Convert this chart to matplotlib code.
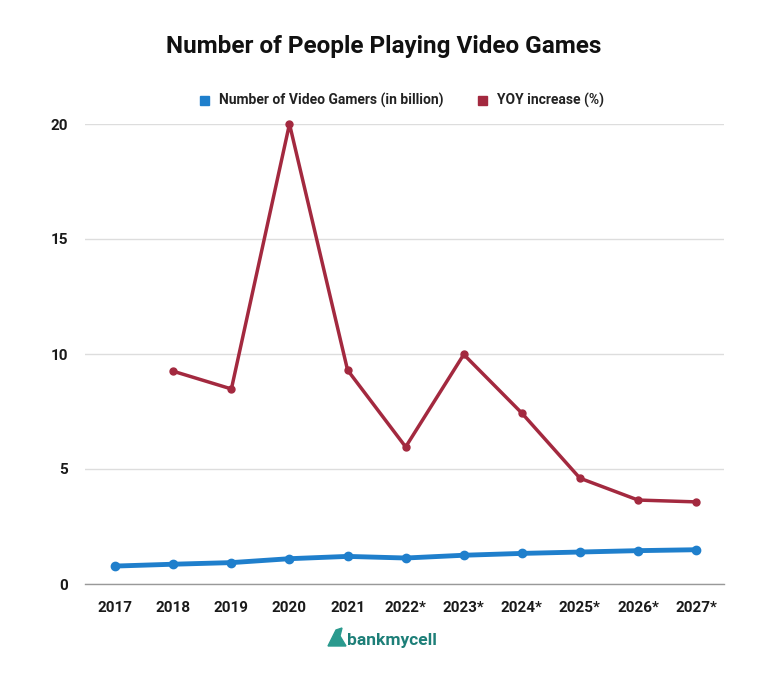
import matplotlib
matplotlib.use("Agg")
import matplotlib.pyplot as plt
from matplotlib.patches import Polygon

years = ["2017", "2018", "2019", "2020", "2021", "2022*", "2023*", "2024*", "2025*", "2026*", "2027*"]
gamers = [0.78, 0.86, 0.93, 1.10, 1.20, 1.13, 1.25, 1.33, 1.39, 1.45, 1.49]
yoy = [None, 9.25, 8.48, 20.0, 9.3, 5.96, 9.98, 7.43, 4.6, 3.65, 3.57]
yticks = [0, 5, 10, 15, 20]

plt.rcParams['font.family'] = ['Roboto', 'DejaVu Sans']

BLUE = "#1f7fcc"
RED = "#a3293f"
TEAL = "#1d7f78"

fig = plt.figure(figsize=(7.68, 6.75), dpi=100)
ax = fig.add_axes([85/768, 1-584/675, (724-85)/768, (584-124)/675])

x = list(range(len(years)))
ax.plot(x, gamers, color=BLUE, lw=3.5, marker='o', ms=6, clip_on=False, zorder=3,
        label="Number of Video Gamers (in billion)")
xr = [i for i, v in zip(x, yoy) if v is not None]
yr = [v for v in yoy if v is not None]
ax.plot(xr, yr, color=RED, lw=2.5, marker='o', ms=5, clip_on=False, zorder=3,
        label="YOY increase (%)")

ax.set_xlim(-0.52, 10.48)
ax.set_ylim(0, 20)
ax.set_yticks(yticks)
ax.set_yticklabels([str(t) for t in yticks])
ax.set_xticks(x)
ax.set_xticklabels(years)
for lab in ax.get_xticklabels() + ax.get_yticklabels():
    lab.set_fontweight('bold')
    lab.set_fontsize(11)
    lab.set_color('#1a1a1a')
ax.tick_params(axis='both', length=0)
ax.tick_params(axis='y', pad=12)
ax.tick_params(axis='x', pad=12)
ax.grid(axis='y', color='#dddddd', lw=1)
ax.set_axisbelow(True)
for s in ['top', 'right', 'left']:
    ax.spines[s].set_visible(False)
ax.spines['bottom'].set_color('#999999')
ax.spines['bottom'].set_linestyle((0, (1, 1)))
ax.spines['bottom'].set_linewidth(1)

fig.text(0.5, 1-47/675, "Number of People Playing Video Games", ha='center', va='center',
         fontsize=17.5, fontweight='bold', color='#111111')

# legend
fig.patches.append(plt.Rectangle((200/768, 1-105/675), 9/768, 9/675, transform=fig.transFigure,
                                 color=BLUE, figure=fig))
fig.text(219/768, 1-100/675, "Number of Video Gamers (in billion)", va='center', ha='left',
         fontsize=10, fontweight='bold', color='#222222')
fig.patches.append(plt.Rectangle((478/768, 1-105/675), 9/768, 9/675, transform=fig.transFigure,
                                 color=RED, figure=fig))
fig.text(497/768, 1-100/675, "YOY increase (%)", va='center', ha='left',
         fontsize=10, fontweight='bold', color='#222222')

# logo
icon = [(328, 646), (336, 630), (342, 628), (340, 636), (346, 646)]
fig.patches.append(Polygon([(px/768, 1-py/675) for px, py in icon], closed=True,
                           transform=fig.transFigure, color="#2a9a8e", figure=fig))
fig.text(392/768, 1-640/675, "bankmycell", ha='center', va='center', fontsize=12.5,
         fontweight='bold', color=TEAL)

fig.savefig("out.png", dpi=100, facecolor='white')
